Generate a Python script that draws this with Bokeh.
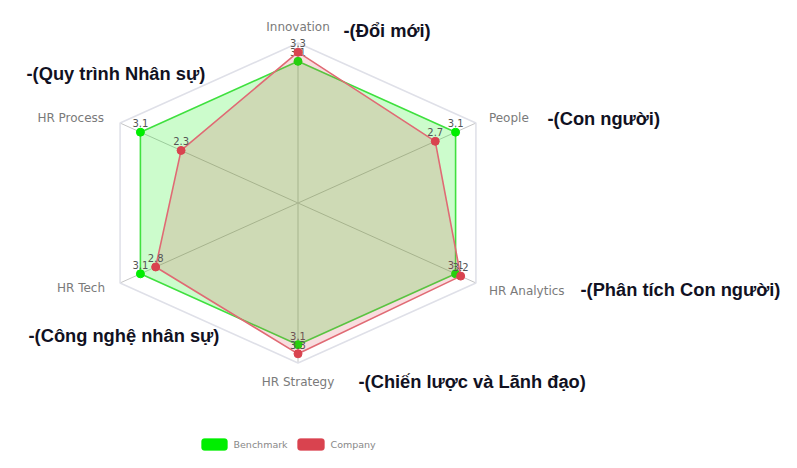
import math
from bokeh.plotting import figure
from bokeh.models import ColumnDataSource, Label, BoxAnnotation, Range1d
from bokeh.core.properties import value
from bokeh.embed import file_html
from bokeh.resources import INLINE

# ---- data ----
categories = ["Innovation", "People", "HR Analytics", "HR Strategy", "HR Tech", "HR Process"]
benchmark = [3.1, 3.1, 3.1, 3.1, 3.1, 3.1]
company = [3.3, 2.7, 3.2, 3.3, 2.8, 2.3]
series_names = ["Benchmark", "Company"]
notes = ["-(Đổi mới)", "-(Con người)", "-(Phân tích Con người)",
         "-(Chiến lược và Lãnh đạo)", "-(Công nghệ nhân sự)", "-(Quy trình Nhân sự)"]
max_value = 3.5

# ---- layout ----
W, H = 781, 452
cx, cy = 297.5, 202.5        # centre of radar in figure pixels
px_x, px_y = 58.7, 45.7      # pixels per unit (chart is stretched horizontally)

p = figure(width=W, height=H, output_backend="svg", toolbar_location=None,
           min_border=0, x_range=Range1d(-cx / px_x, (W - cx) / px_x),
           y_range=Range1d(-(H - cy) / px_y, cy / px_y))
p.axis.visible = False
p.grid.visible = False
p.outline_line_color = None
p.background_fill_color = "white"

n = len(categories)
ang = [2 * math.pi * i / n for i in range(n)]

def pts(vals):
    return ([v * math.sin(a) for v, a in zip(vals, ang)],
            [v * math.cos(a) for v, a in zip(vals, ang)])

# grid: spokes + outer ring
ox, oy = pts([max_value] * n)
for x, y in zip(ox, oy):
    p.line([0, x], [0, y], line_color="#c4c4c4", line_width=1)
p.patch(ox + [ox[0]], oy + [oy[0]], fill_alpha=0, line_color="#dfe0e8", line_width=1.5)

GREEN = "#00ee00"
RED = "#d9434f"

def series(vals, color, line_color, fill_alpha):
    xs, ys = pts(vals)
    p.patch(xs + [xs[0]], ys + [ys[0]], fill_color=color, fill_alpha=fill_alpha,
            line_color=line_color, line_width=1.6)
    src = ColumnDataSource(dict(x=xs, y=ys, t=[f"{v:.1f}" for v in vals]))
    p.scatter("x", "y", source=src, size=8, fill_color=color, line_color=color)
    p.text("x", "y", text="t", source=src, text_align="center", text_baseline="middle",
           y_offset=-9, text_font=value("DejaVu Sans"), text_font_size="10px",
           text_color="#555555")

series(benchmark, GREEN, "#3fe03f", 0.2)
series(company, RED, "#e06a74", 0.18)

# axis names
nx, ny = pts([max_value] * n)
offs = [(0, -16, "center"), (13, -5, "left"), (13, 8, "left"),
        (0, 19, "center"), (-15, 5, "right"), (-16, -5, "right")]
for (x, y, name, (dx, dy, al)) in zip(nx, ny, categories, offs):
    p.text([x], [y], text=[name], x_offset=dx, y_offset=dy, text_align=al,
           text_baseline="middle", text_font=value("DejaVu Sans"), text_font_size="12px",
           text_color="#7a7a7a")

# Vietnamese annotations (screen units)
note_pos = [(343, 422), (547, 334), (580, 163), (358, 71), (28, 117), (26, 379)]
for t, (sx, sy) in zip(notes, note_pos):
    p.add_layout(Label(x=sx, y=sy, x_units="screen", y_units="screen", text=t,
                       text_font="Liberation Sans", text_font_style="bold",
                       text_font_size="18.3px", text_color="#111122",
                       text_baseline="middle", text_align="left"))

# legend (drawn as annotations)
leg_boxes = [(201, 227), (297, 324)]
leg_text_x = [233, 330]
for (l, r), tx, name, col in zip(leg_boxes, leg_text_x, series_names, [GREEN, RED]):
    p.add_layout(BoxAnnotation(left=l, right=r, bottom=2, top=14,
                               left_units="screen", right_units="screen",
                               bottom_units="screen", top_units="screen",
                               fill_color=col, fill_alpha=1, line_color=col,
                               border_radius=3))
    p.add_layout(Label(x=tx, y=8, x_units="screen", y_units="screen", text=name,
                       text_font="DejaVu Sans", text_font_size="9.5px",
                       text_color="#888888", text_baseline="middle"))

open("out.html", "w").write(file_html(p, INLINE))
